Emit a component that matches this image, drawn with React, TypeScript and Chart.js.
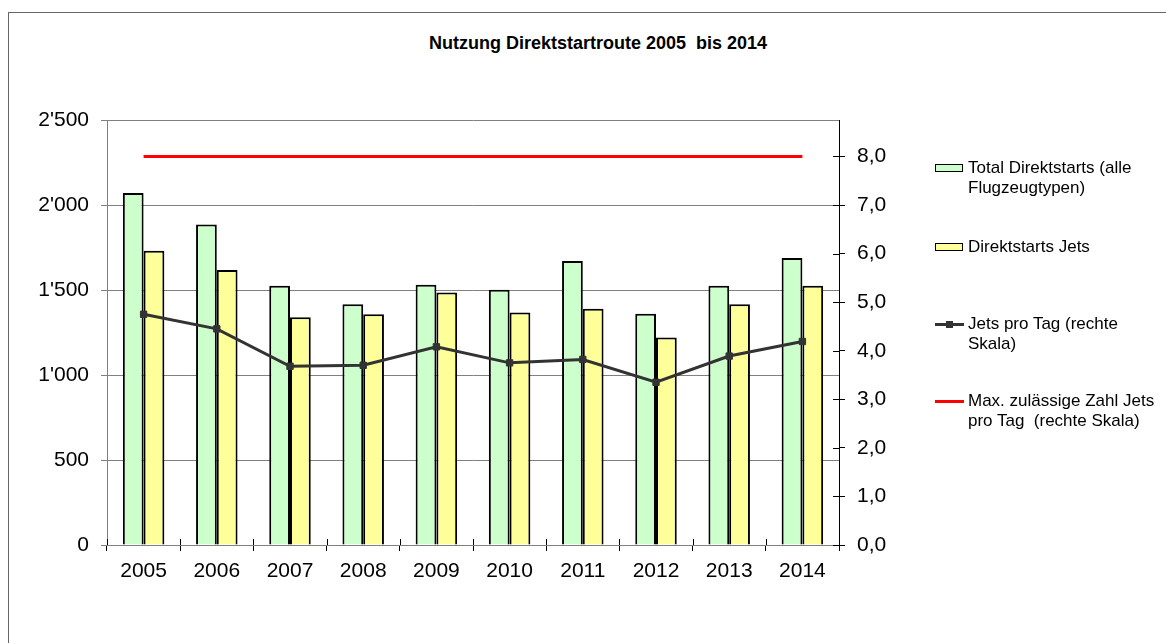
import React, { useEffect, useRef } from "react";
import { Chart, registerables } from "chart.js";

Chart.register(...registerables);

const years = ["2005", "2006", "2007", "2008", "2009", "2010", "2011", "2012", "2013", "2014"];
const totalStarts = [2070, 1886, 1525, 1416, 1531, 1502, 1671, 1361, 1525, 1688];
const jetStarts = [1731, 1618, 1339, 1357, 1486, 1367, 1390, 1220, 1416, 1525];
const jetsPerDay = [4.75, 4.45, 3.68, 3.7, 4.08, 3.75, 3.82, 3.35, 3.89, 4.19];
const maxJetsPerDay = [8, 8, 8, 8, 8, 8, 8, 8, 8, 8];

const titleText = "Nutzung Direktstartroute 2005  bis 2014";
const legendTotal = ["Total Direktstarts (alle", "Flugzeugtypen)"];
const legendJets = ["Direktstarts Jets"];
const legendPerDay = ["Jets pro Tag (rechte", "Skala)"];
const legendMax = ["Max. zulässige Zahl Jets", "pro Tag  (rechte Skala)"];

const FONT = "'Liberation Sans', Arial, sans-serif";

const fmtLeft = (v: number) =>
  v >= 1000 ? Math.floor(v / 1000) + "'" + String(v % 1000).padStart(3, "0") : String(v);
const fmtRight = (v: number) => v.toFixed(1).replace(".", ",");

const innerTicks = {
  id: "innerTicks",
  afterDraw(chart: any) {
    const { ctx } = chart;
    const x = chart.scales.x;
    const y1 = chart.scales.y1;
    ctx.save();
    ctx.strokeStyle = "#000";
    ctx.lineWidth = 1;
    ctx.beginPath();
    const n = x.ticks.length;
    const half = (x.getPixelForValue(1) - x.getPixelForValue(0)) / 2;
    const yb = x.top;
    for (let i = 0; i <= n; i++) {
      const px = Math.round(x.getPixelForValue(i) - half) + 0.5;
      ctx.moveTo(px, yb - 6);
      ctx.lineTo(px, yb);
    }
    y1.ticks.forEach((t: any) => {
      const py = Math.round(y1.getPixelForValue(t.value)) + 0.5;
      ctx.moveTo(y1.left - 6, py);
      ctx.lineTo(y1.left, py);
    });
    ctx.stroke();
    ctx.restore();
  },
};

function LegendItem({ top, kind, lines }: { top: number; kind: string; lines: string[] }) {
  let symbol: React.ReactNode = null;
  if (kind === "green" || kind === "yellow") {
    symbol = (
      <div
        style={{
          position: "absolute",
          left: 935,
          top: top + 6,
          width: 26,
          height: 6,
          border: "1.5px solid #000",
          background: kind === "green" ? "#CCFFCC" : "#FFFF99",
        }}
      />
    );
  } else if (kind === "dark") {
    symbol = (
      <>
        <div style={{ position: "absolute", left: 935, top: top + 9, width: 29, height: 3, background: "#333333" }} />
        <div style={{ position: "absolute", left: 946, top: top + 7, width: 7, height: 7, background: "#333333" }} />
      </>
    );
  } else {
    symbol = <div style={{ position: "absolute", left: 935, top: top + 9, width: 29, height: 3, background: "#FF0000" }} />;
  }
  return (
    <>
      {symbol}
      <div
        style={{
          position: "absolute",
          left: 968,
          top,
          fontFamily: FONT,
          fontSize: 17,
          lineHeight: "20px",
          color: "#000",
          whiteSpace: "pre",
        }}
      >
        {lines.join("\n")}
      </div>
    </>
  );
}

export default function App() {
  const ref = useRef<HTMLCanvasElement | null>(null);

  useEffect(() => {
    if (!ref.current) return;
    const tickFont = { family: FONT, size: 21 };
    const chart = new Chart(ref.current, {
      type: "bar",
      data: {
        labels: years,
        datasets: [
          {
            type: "line",
            label: legendPerDay.join(" "),
            data: jetsPerDay,
            yAxisID: "y1",
            borderColor: "#333333",
            backgroundColor: "#333333",
            borderWidth: 3,
            pointStyle: "rect",
            pointRadius: 4.5,
            pointBorderWidth: 1,
            pointBackgroundColor: "#333333",
            pointBorderColor: "#333333",
            order: 0,
          } as any,
          {
            type: "line",
            label: legendMax.join(" "),
            data: maxJetsPerDay,
            yAxisID: "y1",
            borderColor: "#FF0000",
            borderWidth: 3,
            pointRadius: 0,
            order: 0,
          } as any,
          {
            type: "bar",
            label: legendTotal.join(" "),
            data: totalStarts,
            yAxisID: "y",
            backgroundColor: "#CCFFCC",
            borderColor: "#000000",
            borderWidth: 2,
            order: 1,
          } as any,
          {
            type: "bar",
            label: legendJets.join(" "),
            data: jetStarts,
            yAxisID: "y",
            backgroundColor: "#FFFF99",
            borderColor: "#000000",
            borderWidth: 2,
            order: 1,
          } as any,
        ],
      },
      options: {
        responsive: false,
        animation: false,
        datasets: { bar: { categoryPercentage: 0.567, barPercentage: 1.0 } } as any,
        layout: { padding: { left: 0, right: 267, top: 120, bottom: 48 } },
        plugins: {
          legend: { display: false },
          title: { display: false },
          tooltip: { enabled: false },
        },
        scales: {
          x: {
            type: "category",
            offset: true,
            grid: { offset: true, drawOnChartArea: false, drawTicks: true, tickLength: 6, color: "#000" },
            border: { color: "#808080" },
            ticks: { font: tickFont, color: "#000", padding: 8, maxRotation: 0, autoSkip: false },
            afterFit: (s: any) => {
              s.height = 50;
            },
          },
          y: {
            position: "left",
            min: 0,
            max: 2500,
            ticks: {
              stepSize: 500,
              font: tickFont,
              color: "#000",
              padding: 12,
              callback: (v: any) => fmtLeft(Number(v)),
            },
            grid: { color: "#808080", tickLength: 6 },
            border: { color: "#808080" },
            afterFit: (s: any) => {
              s.width = 107;
            },
          },
          y1: {
            position: "right",
            min: 0,
            max: 8.75,
            ticks: {
              stepSize: 1,
              includeBounds: false,
              font: tickFont,
              color: "#000",
              padding: 12,
              callback: (v: any) => fmtRight(Number(v)),
            },
            grid: { drawOnChartArea: false, tickLength: 6, color: "#000" },
            border: { color: "#000" },
            afterFit: (s: any) => {
              s.width = 60;
            },
          },
        },
      } as any,
      plugins: [innerTicks],
    });
    return () => chart.destroy();
  }, []);

  return (
    <div style={{ position: "fixed", left: 0, top: 0, width: 1166, height: 643, background: "#fff" }}>
      <div
        style={{
          position: "absolute",
          left: 8,
          top: 12,
          width: 1200,
          height: 700,
          borderLeft: "1px solid #666",
          borderTop: "1px solid #666",
        }}
      />
      <div
        style={{
          position: "absolute",
          left: 0,
          top: 32,
          width: 1196,
          textAlign: "center",
          fontFamily: FONT,
          fontWeight: "bold",
          fontSize: 18,
          lineHeight: "22px",
          whiteSpace: "pre",
          color: "#000",
        }}
      >
        {titleText}
      </div>
      <canvas ref={ref} width={1166} height={643} style={{ position: "absolute", left: 0, top: 0 }} />
      <LegendItem top={158} kind="green" lines={legendTotal} />
      <LegendItem top={237} kind="yellow" lines={legendJets} />
      <LegendItem top={314} kind="dark" lines={legendPerDay} />
      <LegendItem top={391} kind="red" lines={legendMax} />
    </div>
  );
}
